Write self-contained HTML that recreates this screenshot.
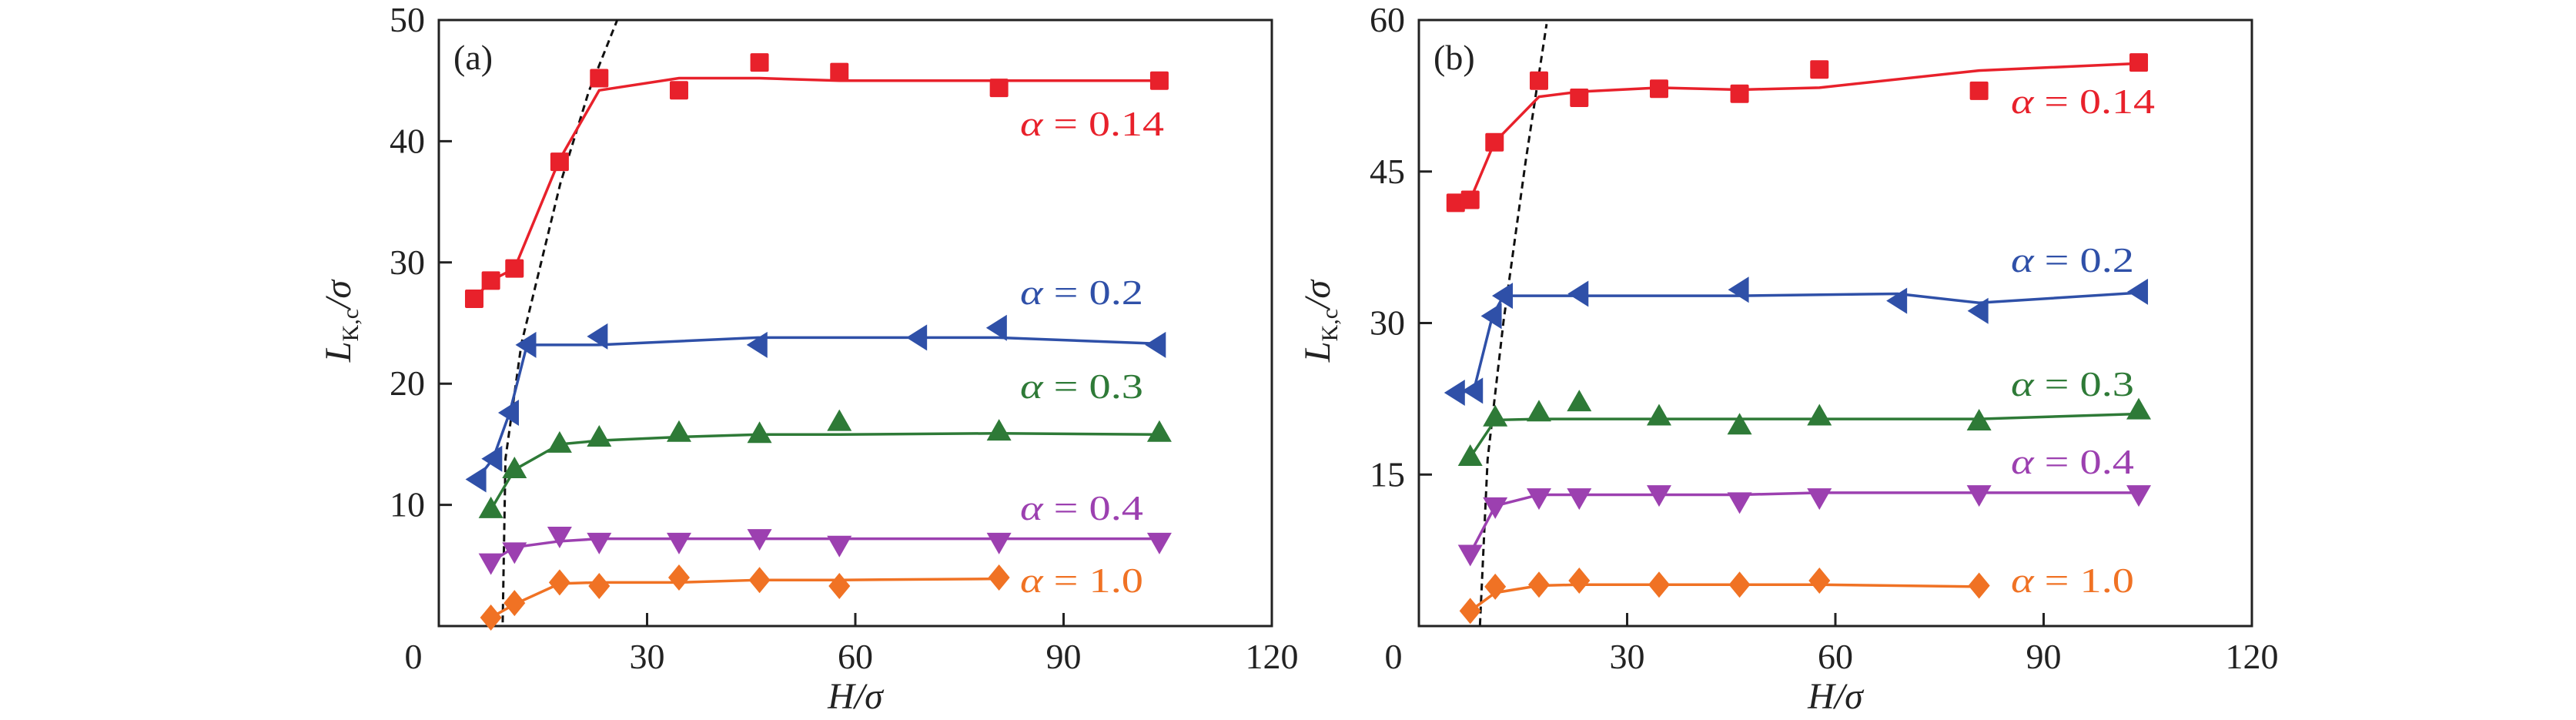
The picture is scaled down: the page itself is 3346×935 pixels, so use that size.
<!DOCTYPE html>
<html><head><meta charset="utf-8"><style>
html,body{margin:0;padding:0;background:#fff;}
svg{display:block;}
text{font-family:"Liberation Serif",serif;}
</style></head><body>
<svg id="chart" width="3346" height="935" viewBox="0 0 3346 935" xmlns="http://www.w3.org/2000/svg"></svg>
<script>
// ---- Panel (a) data ----
const aRedX=[5.1,7.5,10.9,17.4,23.1,34.6,46.2,57.7,80.7,103.8];
const aRedY=[27.0,28.5,29.5,38.3,45.2,44.2,46.5,45.7,44.4,45.0];
const aRedFit=[27.0,28.5,29.5,38.5,44.2,45.2,45.2,45.0,45.0,45.0];
const aBlueX=[5.5,7.8,10.2,12.7,23.0,46.0,69.0,80.5,103.4];
const aBlueY=[12.1,13.8,17.6,23.2,23.9,23.2,23.8,24.6,23.2];
const aBlueFit=[12.1,13.8,17.6,23.2,23.2,23.8,23.8,23.8,23.3];
const aGreenX=[7.5,10.9,17.4,23.1,34.6,46.2,57.7,80.7,103.8];
const aGreenY=[9.6,12.9,15.0,15.5,15.9,15.8,16.8,16.0,15.9];
const aGreenFit=[9.6,12.9,15.0,15.3,15.6,15.8,15.8,15.9,15.8];
const aPurpleX=[7.5,10.9,17.4,23.1,34.6,46.2,57.7,80.7,103.8];
const aPurpleY=[5.3,6.2,7.5,7.0,7.0,7.3,6.75,7.0,7.0];
const aPurpleFit=[5.3,6.5,7.0,7.2,7.2,7.2,7.2,7.2,7.2];
const aOrangeX=[7.5,10.9,17.4,23.1,34.6,46.2,57.7,80.7];
const aOrangeY=[0.7,1.9,3.6,3.3,4.0,3.8,3.3,4.0];
const aOrangeFit=[0.7,1.8,3.5,3.6,3.6,3.8,3.8,3.9];
const aDashX=[9.2,9.6,11.9,17.5,21.6,25.7];
const aDashY=[0.3,13.8,23.3,36.5,44.1,50];
const aYTicks=[10,20,30,40,50];
// ---- Panel (b) data ----
const bRedX=[5.3,7.4,10.9,17.3,23.1,34.6,46.2,57.7,80.7,103.7];
const bRedY=[41.9,42.2,47.9,54.0,52.3,53.2,52.7,55.1,53.0,55.8];
const bRedFit=[41.9,42.2,47.9,52.4,52.9,53.3,53.1,53.3,55.0,55.7];
const bBlueX=[5.3,7.9,10.6,12.2,23.1,46.2,69.0,80.7,103.7];
const bBlueY=[23.1,23.3,30.7,32.7,32.9,33.3,32.2,31.2,33.1];
const bBlueFit=[23.1,23.3,30.7,32.7,32.7,32.7,32.9,32.0,33.0];
const bGreenX=[7.4,11.0,17.3,23.1,34.6,46.2,57.7,80.7,103.7];
const bGreenY=[16.7,20.6,21.1,22.1,20.7,19.8,20.7,20.2,21.3];
const bGreenFit=[16.7,20.4,20.5,20.5,20.5,20.5,20.5,20.5,21.0];
const bPurpleX=[7.4,11.0,17.3,23.1,34.6,46.2,57.7,80.7,103.7];
const bPurpleY=[7.2,11.9,12.8,12.8,13.1,12.4,12.8,13.1,13.1];
const bPurpleFit=[7.2,11.9,13.0,13.0,13.0,13.0,13.2,13.2,13.2];
const bOrangeX=[7.4,11.0,17.3,23.1,34.6,46.2,57.7,80.7];
const bOrangeY=[1.5,3.9,4.1,4.5,4.1,4.1,4.5,4.0];
const bOrangeFit=[1.5,3.3,4.0,4.1,4.1,4.1,4.1,3.9];
const bDashX=[8.8,9.9,12.2,15.4,18.4];
const bDashY=[0.1,16.5,30.2,46.1,59.6];
const bYTicks=[15,30,45,60];
const xTicks=[0,30,60,90,120];
const labelsText=["α = 0.14","α = 0.2","α = 0.3","α = 0.4","α = 1.0"];

const NS="http://www.w3.org/2000/svg";
const svg=document.getElementById('chart');
const COL={red:"#e8212b",blue:"#2f50a8",green:"#2e7a37",purple:"#9c40b0",orange:"#f07224"};
function mk(tag,attrs,parent){const e=document.createElementNS(NS,tag);for(const k in attrs)e.setAttribute(k,attrs[k]);(parent||svg).appendChild(e);return e;}

function panel(cfg){
  const L=cfg.left,R=cfg.left+1082,T=26,B=813;
  const sx=v=>L+v/120*(R-L);
  const sy=v=>B-v/cfg.ymax*(B-T);
  const g=mk('g',{});
  
  
  const frame=mk('rect',{x:L,y:T,width:R-L,height:B-T,fill:'none',stroke:'#222',"stroke-width":3},g);
  
  
  // x ticks
  xTicks.forEach((v,i)=>{
    if(v>0&&v<120){const t=mk('line',{x1:sx(v),x2:sx(v),y1:B,y2:B-17,stroke:'#222',"stroke-width":3},g);
      }
    const lx=v===0?sx(v)-33:sx(v);
    const tx=mk('text',{x:lx,y:868,"font-size":46,"text-anchor":"middle",fill:'#222'},g);
    tx.textContent=v;
    
  });
  cfg.yticks.forEach(v=>{
    if(v<cfg.ymax){const t=mk('line',{x1:L,x2:L+17,y1:sy(v),y2:sy(v),stroke:'#222',"stroke-width":3},g);
      }
    const tx=mk('text',{x:L-18,y:sy(v)+15,"font-size":46,"text-anchor":"end",fill:'#222'},g);
    tx.textContent=v;
    
  });
  // axis titles
  const xt=mk('text',{x:(L+R)/2,y:920,"font-size":48,"font-style":"italic","text-anchor":"middle",fill:'#222'},g);
  xt.textContent="H/σ";
  
  const yt=mk('text',{x:0,y:0,"font-size":48,"font-style":"italic","text-anchor":"middle",fill:'#222',transform:`translate(${cfg.ytx},417) rotate(-90)`},g);
  yt.innerHTML='L<tspan font-size="30" font-style="normal" dy="10">K,c</tspan><tspan dy="-10">/σ</tspan>';
  
  const pl=mk('text',{x:L+19,y:90,"font-size":46,fill:'#222'},g);
  pl.textContent=cfg.tag;
  
  // dashed
  const dp=cfg.dx.map((v,i)=>sx(v)+','+sy(cfg.dy[i])).join(' ');
  const d=mk('polyline',{points:dp,fill:'none',stroke:'#111',"stroke-width":3,"stroke-dasharray":"9,6"},g);
  
  // series
  cfg.series.forEach((s,si)=>{
    const pts=s.x.map((v,i)=>sx(v)+','+sy(s.fit[i])).join(' ');
    const ln=mk('polyline',{points:pts,fill:'none',stroke:s.c,"stroke-width":3.5},g);
    
    s.x.forEach((v,i)=>{
      const cx=sx(v),cy=sy(s.y[i]);let m;
      if(s.m==='sq')m=mk('rect',{x:cx-12,y:cy-12,width:24,height:24,rx:2,fill:s.c},g);
      else if(s.m==='left')m=mk('polygon',{points:`${cx-15},${cy} ${cx+12},${cy-17} ${cx+12},${cy+17}`,fill:s.c},g);
      else if(s.m==='up')m=mk('polygon',{points:`${cx},${cy-17} ${cx+16},${cy+11} ${cx-16},${cy+11}`,fill:s.c},g);
      else if(s.m==='down')m=mk('polygon',{points:`${cx},${cy+17} ${cx+16},${cy-11} ${cx-16},${cy-11}`,fill:s.c},g);
      else m=mk('polygon',{points:`${cx},${cy-17} ${cx+14},${cy} ${cx},${cy+17} ${cx-14},${cy}`,fill:s.c},g);
      
    });
    const lab=mk('text',{x:cfg.labx,y:cfg.laby[si]+16,"font-size":46,fill:s.c,textLength:cfg.labw[si],lengthAdjust:"spacingAndGlyphs"},g);
    lab.innerHTML='<tspan font-style="italic">α</tspan>'+labelsText[si].slice(1);
    
  });
}
panel({name:'panel-a',tag:'(a)',left:570,ymax:50,yticks:aYTicks,ytx:455,dx:aDashX,dy:aDashY,
  labx:1325,laby:[160,379,501,659,753],labw:[187,160,160,160,160],
  series:[
   {n:'alpha-0.14',c:COL.red,m:'sq',x:aRedX,y:aRedY,fit:aRedFit},
   {n:'alpha-0.2',c:COL.blue,m:'left',x:aBlueX,y:aBlueY,fit:aBlueFit},
   {n:'alpha-0.3',c:COL.green,m:'up',x:aGreenX,y:aGreenY,fit:aGreenFit},
   {n:'alpha-0.4',c:COL.purple,m:'down',x:aPurpleX,y:aPurpleY,fit:aPurpleFit},
   {n:'alpha-1.0',c:COL.orange,m:'dia',x:aOrangeX,y:aOrangeY,fit:aOrangeFit}]});
panel({name:'panel-b',tag:'(b)',left:1843,ymax:60,yticks:bYTicks,ytx:1727,dx:bDashX,dy:bDashY,
  labx:2612,laby:[131,337,498,599,753],labw:[187,160,160,160,160],
  series:[
   {n:'alpha-0.14',c:COL.red,m:'sq',x:bRedX,y:bRedY,fit:bRedFit},
   {n:'alpha-0.2',c:COL.blue,m:'left',x:bBlueX,y:bBlueY,fit:bBlueFit},
   {n:'alpha-0.3',c:COL.green,m:'up',x:bGreenX,y:bGreenY,fit:bGreenFit},
   {n:'alpha-0.4',c:COL.purple,m:'down',x:bPurpleX,y:bPurpleY,fit:bPurpleFit},
   {n:'alpha-1.0',c:COL.orange,m:'dia',x:bOrangeX,y:bOrangeY,fit:bOrangeFit}]});
</script>
</body></html>
